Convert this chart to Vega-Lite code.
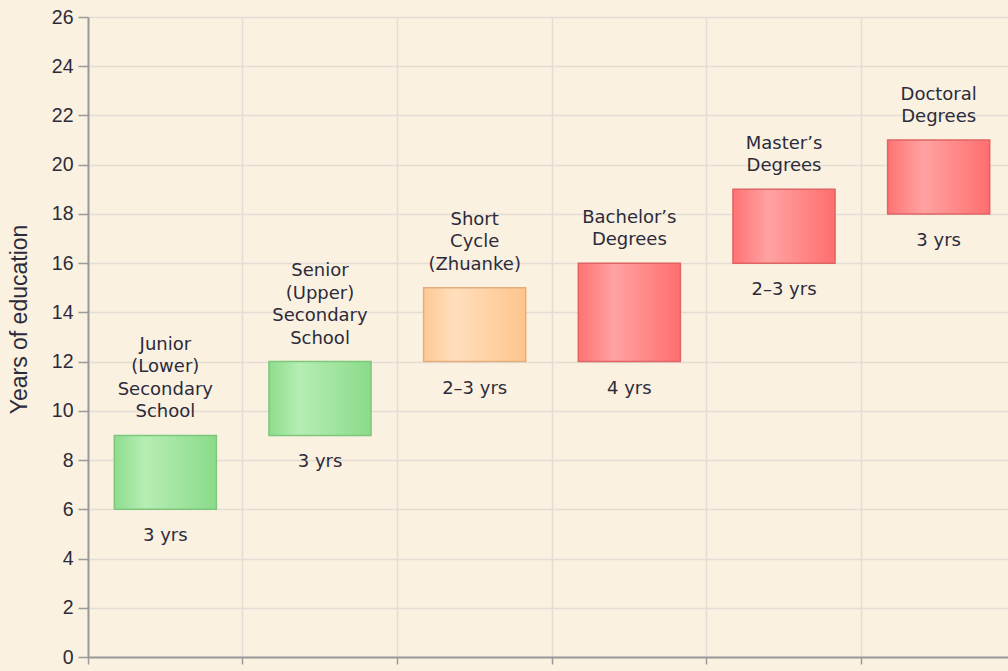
{
  "$schema": "https://vega.github.io/schema/vega-lite/v6.json",
  "width": 928,
  "height": 640,
  "autosize": {"type": "none"},
  "padding": {"left": 88, "top": 17, "right": 0, "bottom": 14},
  "background": "#FBF1E0",
  "config": {
    "view": {"stroke": null},
    "font": "DejaVu Sans",
    "axis": {"gridColor": "#E2DED6", "gridWidth": 1.5, "domainColor": "#9A9A9A", "domainWidth": 2, "tickColor": "#9A9A9A", "tickWidth": 1.5, "labelColor": "#2B2B3B", "titleColor": "#2B2B3B"},
    "axisY": {"labelFont": "Liberation Sans", "labelFontSize": 19.5, "titleFont": "Liberation Sans", "titleFontSize": 23, "titleFontWeight": "normal", "tickSize": 10, "labelPadding": 5, "titleX": -57, "titleY": 302, "titleAngle": -90, "titleBaseline": "bottom", "titleAlign": "center"}
  },
  "data": {
    "values": [
      {"level": "Junior (Lower) Secondary School", "l4": "Junior", "l3": "(Lower)", "l2": "Secondary", "l1": "School", "start": 6, "end": 9, "duration": "3 yrs", "kind": "secondary"},
      {"level": "Senior (Upper) Secondary School", "l4": "Senior", "l3": "(Upper)", "l2": "Secondary", "l1": "School", "start": 9, "end": 12, "duration": "3 yrs", "kind": "secondary"},
      {"level": "Short Cycle (Zhuanke)", "l4": "", "l3": "Short", "l2": "Cycle", "l1": "(Zhuanke)", "start": 12, "end": 15, "duration": "2–3 yrs", "kind": "short"},
      {"level": "Bachelor's Degrees", "l4": "", "l3": "", "l2": "Bachelor’s", "l1": "Degrees", "start": 12, "end": 16, "duration": "4 yrs", "kind": "degree"},
      {"level": "Master's Degrees", "l4": "", "l3": "", "l2": "Master’s", "l1": "Degrees", "start": 16, "end": 19, "duration": "2–3 yrs", "kind": "degree"},
      {"level": "Doctoral Degrees", "l4": "", "l3": "", "l2": "Doctoral", "l1": "Degrees", "start": 18, "end": 21, "duration": "3 yrs", "kind": "degree"}
    ]
  },
  "encoding": {
    "x": {
      "field": "level", "type": "nominal", "sort": null,
      "scale": {"paddingInner": 0, "paddingOuter": 0},
      "axis": {"title": null, "labels": false, "bandPosition": 0, "tickSize": 7, "grid": true}
    }
  },
  "layer": [
    {
      "mark": {"type": "bar", "width": {"band": 0.66}, "strokeWidth": 1.5},
      "encoding": {
        "y": {
          "field": "start", "type": "quantitative",
          "scale": {"domain": [0, 26], "nice": false},
          "axis": {"title": "Years of education", "values": [0,2,4,6,8,10,12,14,16,18,20,22,24,26]}
        },
        "y2": {"field": "end"},
        "fill": {
          "condition": [
            {"test": "datum.kind === 'secondary'", "value": {"gradient": "linear", "x1": 0, "y1": 0, "x2": 1, "y2": 0, "stops": [{"offset": 0, "color": "#8EDD8E"}, {"offset": 0.3, "color": "#B6EDB3"}, {"offset": 1, "color": "#8ADB8A"}]}},
            {"test": "datum.kind === 'short'", "value": {"gradient": "linear", "x1": 0, "y1": 0, "x2": 1, "y2": 0, "stops": [{"offset": 0, "color": "#FFC993"}, {"offset": 0.3, "color": "#FFDFBD"}, {"offset": 1, "color": "#FFC48C"}]}}
          ],
          "value": {"gradient": "linear", "x1": 0, "y1": 0, "x2": 1, "y2": 0, "stops": [{"offset": 0, "color": "#FF7373"}, {"offset": 0.35, "color": "#FFA2A2"}, {"offset": 1, "color": "#FF6E6E"}]}
        },
        "stroke": {
          "condition": [
            {"test": "datum.kind === 'secondary'", "value": "#7CC77C"},
            {"test": "datum.kind === 'short'", "value": "#E3AE7C"}
          ],
          "value": "#E06464"
        }
      }
    },
    {
      "mark": {"type": "text", "baseline": "middle", "dy": -23, "fontSize": 18, "color": "#2B2B3B"},
      "encoding": {"y": {"field": "end", "type": "quantitative"}, "text": {"field": "l1"}}
    },
    {
      "mark": {"type": "text", "baseline": "middle", "dy": -45.5, "fontSize": 18, "color": "#2B2B3B"},
      "encoding": {"y": {"field": "end", "type": "quantitative"}, "text": {"field": "l2"}}
    },
    {
      "mark": {"type": "text", "baseline": "middle", "dy": -68, "fontSize": 18, "color": "#2B2B3B"},
      "encoding": {"y": {"field": "end", "type": "quantitative"}, "text": {"field": "l3"}}
    },
    {
      "mark": {"type": "text", "baseline": "middle", "dy": -90.5, "fontSize": 18, "color": "#2B2B3B"},
      "encoding": {"y": {"field": "end", "type": "quantitative"}, "text": {"field": "l4"}}
    },
    {
      "mark": {"type": "text", "baseline": "top", "dy": 18, "fontSize": 18, "color": "#2B2B3B"},
      "encoding": {
        "y": {"field": "start", "type": "quantitative"},
        "text": {"field": "duration"}
      }
    }
  ]
}
